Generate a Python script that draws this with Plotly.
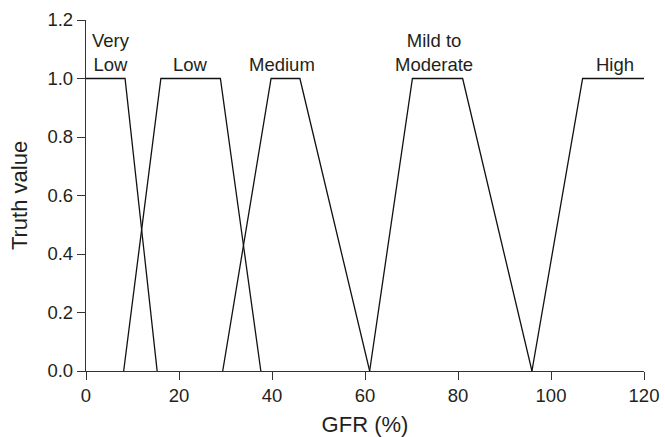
import plotly.graph_objects as go

# Membership function vertices (GFR %, truth value)
very_low_x = [0, 8.4, 15.3]
very_low_y = [1, 1, 0]
low_x = [8.1, 16.1, 28.9, 37.6]
low_y = [0, 1, 1, 0]
medium_x = [29.4, 39.8, 46.0, 61.0]
medium_y = [0, 1, 1, 0]
mild_x = [61.0, 70.2, 81.0, 95.9]
mild_y = [0, 1, 1, 0]
high_x = [95.9, 106.8, 120]
high_y = [0, 1, 1]

labels = ["Very<br>Low", "Low", "Medium", "Mild to<br>Moderate", "High"]
label_x = [0.9, 22.4, 42.2, 74.9, 113.7]
label_anchor = ["left", "center", "center", "center", "center"]

x_ticks = [0, 20, 40, 60, 80, 100, 120]
y_ticks = [0.0, 0.2, 0.4, 0.6, 0.8, 1.0, 1.2]

FONT = "Liberation Sans, Arial, sans-serif"
TXT = "#231f20"
FS = 18.5

fig = go.Figure()
for xs, ys in [(very_low_x, very_low_y), (low_x, low_y), (medium_x, medium_y),
               (mild_x, mild_y), (high_x, high_y)]:
    fig.add_trace(go.Scatter(x=xs, y=ys, mode="lines",
                             line=dict(color="#111111", width=1.3),
                             showlegend=False, hoverinfo="skip"))

for t, xv, an in zip(labels, label_x, label_anchor):
    fig.add_annotation(x=xv, y=1.0, text=t, showarrow=False, xanchor=an,
                       yanchor="bottom", yshift=2, align="center",
                       font=dict(family=FONT, size=FS, color=TXT))

fig.update_layout(
    width=665, height=437,
    margin=dict(l=86, r=21, t=20, b=66, autoexpand=False),
    plot_bgcolor="white", paper_bgcolor="white",
    font=dict(family=FONT, size=FS, color=TXT),
    xaxis=dict(range=[0, 120], tickvals=x_ticks, ticks="outside", ticklen=8,
               tickcolor="#333333", showline=True, linecolor="#333333",
               linewidth=1.3, showgrid=False, zeroline=False, automargin=False,
               title=dict(text="GFR (%)", standoff=19),
               tickfont=dict(size=FS)),
    yaxis=dict(range=[0, 1.2], tickvals=y_ticks, tickformat=".1f",
               ticks="outside", ticklen=8, tickcolor="#333333",
               showline=True, linecolor="#333333", linewidth=1.3,
               showgrid=False, zeroline=False, automargin=False,
               title=dict(text="Truth value", standoff=13),
               tickfont=dict(size=FS)),
)

fig.write_html("out.html", config={"displayModeBar": False},
               post_script="document.body.style.margin='0';document.body.style.padding='0';")
